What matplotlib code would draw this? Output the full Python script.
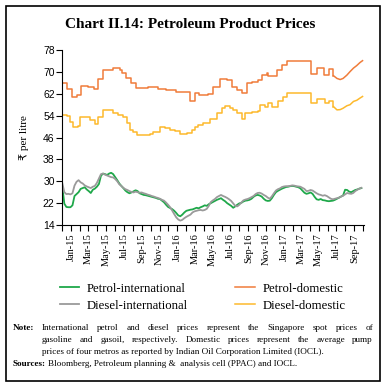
import numpy as np
import pandas as pd
import matplotlib
matplotlib.use("Agg")
import matplotlib.pyplot as plt
import matplotlib.dates as mdates
import matplotlib.transforms as mtransforms
from matplotlib.patches import Rectangle

# weekly Singapore spot prices (Rs per litre), starting 1 Dec 2014
intl_start = "2014-12-01"
petrol_intl = [28.0, 21.8, 20.6, 20.5, 20.5, 21.2, 24.6, 25.3, 26.0, 27.2,
               27.5, 27.8, 27.0, 26.4, 25.7, 26.9, 27.3, 28.0, 29.0, 32.0,
               32.8, 32.6, 32.3, 32.8, 33.1, 32.6, 31.5, 30.4, 29.2, 28.3,
               27.5, 26.6, 26.0, 25.6, 25.9, 26.3, 26.7, 26.4, 25.6, 25.3,
               25.0, 24.9, 24.7, 24.5, 24.3, 24.1, 23.9, 23.6, 23.5, 22.9,
               22.3, 21.4, 20.6, 20.2, 19.8, 19.2, 18.4, 17.5, 17.2, 17.8,
               18.6, 19.2, 19.4, 19.6, 19.7, 20.0, 20.3, 20.1, 20.5, 20.8,
               21.2, 21.0, 21.6, 22.0, 22.4, 22.8, 23.2, 23.5, 23.8, 23.2,
               22.7, 22.0, 21.5, 21.0, 20.3, 20.8, 21.4, 21.9, 22.1, 22.6,
               22.9, 23.0, 23.2, 23.6, 24.3, 24.8, 25.0, 24.8, 24.4, 23.6,
               23.0, 22.8, 22.9, 23.8, 25.0, 26.0, 26.5, 26.9, 27.3, 27.6,
               27.9, 28.0, 28.2, 28.3, 28.2, 28.0, 27.8, 27.4, 26.6, 25.8,
               25.4, 25.6, 25.9, 25.4, 24.3, 23.4, 23.2, 23.5, 23.1, 23.0,
               22.8, 22.7, 22.8, 22.9, 23.2, 23.6, 24.0, 24.4, 24.8, 26.9,
               26.8, 26.2, 26.0, 26.4, 26.8, 27.0, 27.3, 27.5]
diesel_intl = [29.3, 26.0, 25.3, 25.4, 25.2, 25.6, 28.4, 29.8, 30.4, 29.6,
               29.2, 28.5, 28.1, 27.8, 27.5, 28.0, 28.3, 29.4, 31.0, 32.6,
               32.8, 32.4, 32.1, 31.8, 31.5, 31.4, 30.8, 30.0, 28.9, 28.3,
               27.6, 27.1, 26.8, 26.4, 26.1, 25.9, 26.2, 26.0, 25.8, 25.9,
               25.6, 25.4, 25.1, 24.9, 24.6, 24.4, 24.1, 23.9, 23.6, 23.2,
               22.9, 22.2, 21.4, 20.5, 19.3, 18.0, 16.8, 16.0, 15.6, 15.9,
               16.5, 17.0, 17.4, 17.8, 18.6, 19.0, 19.2, 19.4, 19.5, 19.3,
               19.5, 19.9, 21.0, 22.4, 23.0, 23.5, 24.2, 24.6, 25.0, 24.6,
               24.3, 23.9, 23.4, 22.8, 21.9, 21.0, 20.8, 21.4, 22.2, 23.0,
               23.3, 23.5, 23.8, 24.2, 24.6, 25.3, 25.7, 25.8, 25.5, 25.0,
               24.6, 24.0, 23.6, 24.5, 25.6, 26.6, 27.1, 27.4, 27.9, 28.1,
               28.2, 28.2, 28.3, 28.5, 28.4, 28.2, 28.1, 28.0, 27.6, 27.2,
               26.4, 26.5, 26.8, 26.6, 26.1, 25.6, 25.2, 25.0, 24.7, 24.9,
               24.6, 24.1, 23.6, 23.4, 23.6, 23.8, 24.0, 24.4, 24.7, 25.2,
               25.7, 25.5, 25.4, 25.7, 26.4, 26.9, 27.3, 27.6]

# domestic pump prices: revision dates and new price (fortnightly revisions)
petrol_dom_dates = ["2014-12-01", "2014-12-16", "2015-01-02", "2015-01-20", "2015-02-02",
                    "2015-02-28", "2015-03-21", "2015-04-04", "2015-04-21", "2015-05-26",
                    "2015-06-18", "2015-06-24", "2015-07-08", "2015-07-25", "2015-08-12",
                    "2015-09-22", "2015-10-26", "2015-11-23", "2015-12-27", "2016-02-15",
                    "2016-03-02", "2016-03-15", "2016-04-15", "2016-05-04", "2016-05-27",
                    "2016-06-19", "2016-07-06", "2016-07-23", "2016-08-09", "2016-08-27",
                    "2016-09-13", "2016-10-06", "2016-10-17", "2016-11-03", "2016-11-09",
                    "2016-12-08", "2016-12-25", "2017-01-11", "2017-04-04", "2017-04-25",
                    "2017-05-20", "2017-06-04", "2017-06-21"]
petrol_dom = [65.8, 63.8, 60.9, 61.5, 65.0, 64.6, 63.7, 67.5, 70.7, 71.4,
              70.6, 69.5, 67.6, 65.8, 64.0, 64.3, 63.9, 63.4, 62.8, 59.2,
              62.1, 61.5, 61.8, 64.6, 67.3, 66.9, 64.6, 63.4, 62.1, 65.8,
              66.4, 67.0, 68.9, 69.5, 68.4, 70.7, 72.5, 74.1, 69.3, 71.6,
              68.8, 71.2, 68.6]
diesel_dom_dates = ["2014-12-01", "2014-12-16", "2014-12-27", "2015-01-08", "2015-01-25",
                    "2015-01-31", "2015-03-06", "2015-03-24", "2015-04-04", "2015-04-21",
                    "2015-05-26", "2015-06-12", "2015-06-29", "2015-07-11", "2015-07-22",
                    "2015-08-02", "2015-08-14", "2015-09-29", "2015-10-10", "2015-11-02",
                    "2015-11-19", "2015-12-07", "2015-12-24", "2016-01-10", "2016-02-02",
                    "2016-02-19", "2016-03-02", "2016-03-13", "2016-03-30", "2016-04-22",
                    "2016-05-15", "2016-06-02", "2016-06-13", "2016-06-30", "2016-07-12",
                    "2016-07-23", "2016-08-09", "2016-08-21", "2016-09-13", "2016-10-06",
                    "2016-10-11", "2016-10-29", "2016-11-09", "2016-11-21", "2016-12-13",
                    "2016-12-31", "2017-01-11", "2017-04-04", "2017-04-25", "2017-05-23",
                    "2017-06-04", "2017-06-21"]
diesel_dom = [54.2, 53.8, 51.8, 49.7, 50.3, 53.4, 52.4, 50.9, 53.4, 56.1,
              55.1, 54.2, 53.4, 51.2, 48.7, 48.0, 46.9, 47.1, 48.1, 49.7,
              49.3, 48.8, 48.3, 47.2, 47.6, 48.6, 49.7, 50.6, 51.4, 52.7,
              54.9, 56.7, 57.5, 56.7, 56.1, 54.9, 52.7, 54.9, 55.2, 55.6,
              57.9, 57.3, 58.5, 57.2, 59.3, 60.9, 62.2, 58.5, 60.2, 58.8,
              59.4, 57.3]

# daily revision from 16 June 2017
daily_dates = ["2017-06-21", "2017-07-03", "2017-07-14", "2017-07-24", "2017-08-06",
               "2017-08-17", "2017-08-29", "2017-09-09", "2017-09-20", "2017-09-29"]
petrol_daily = [68.6, 67.6, 67.2, 67.6, 68.8, 70.1, 71.4, 72.3, 73.4, 74.1]
diesel_daily = [57.3, 56.1, 56.2, 56.7, 57.6, 58.0, 59.2, 59.6, 60.4, 61.0]

tick_labels = ["Jan-15", "Mar-15", "May-15", "Jul-15", "Sep-15", "Nov-15",
               "Jan-16", "Mar-16", "May-16", "Jul-16", "Sep-16", "Nov-16",
               "Jan-17", "Mar-17", "May-17", "Jul-17", "Sep-17"]

green = "#1fa84a"
grey = "#9a9a9a"
orange = "#f07c3a"
yellow = "#fdb92c"

W, H = 386, 387
fig = plt.figure(figsize=(W / 100, H / 100), dpi=100)
ax = fig.add_axes([62.3 / W, 1 - 225 / H, (364 - 62.3) / W, 175 / H])

intl_dates = pd.date_range(intl_start, periods=len(petrol_intl), freq="7D")
ax.plot(intl_dates, petrol_intl, color=green, lw=1.3, label="Petrol-international")
ax.plot(intl_dates, diesel_intl, color=grey, lw=1.3, label="Diesel-international")
pd_dates = pd.to_datetime(petrol_dom_dates)
dd_dates = pd.to_datetime(diesel_dom_dates)
dl_dates = pd.to_datetime(daily_dates)
ax.plot(pd_dates, petrol_dom, color=orange, lw=1.1, drawstyle="steps-post", label="Petrol-domestic")
ax.plot(dl_dates, petrol_daily, color=orange, lw=1.1)
ax.plot(dd_dates, diesel_dom, color=yellow, lw=1.1, drawstyle="steps-post", label="Diesel-domestic")
ax.plot(dl_dates, diesel_daily, color=yellow, lw=1.1)

ax.set_ylim(14, 78)
ax.set_yticks(np.arange(14, 79, 8))
ax.set_xlim(pd.Timestamp("2014-12-01"), pd.Timestamp("2017-10-04"))
ticks = pd.to_datetime([t.replace("-", " 20") for t in tick_labels], format="%b %Y")
ax.set_xticks(ticks)
ax.set_xticklabels(tick_labels, rotation=90, family="Liberation Serif", fontsize=7.5)
# labels sit a little right of the month start, as in the original
shift = mtransforms.ScaledTranslation(2.5 / 100, 0, fig.dpi_scale_trans)
for lab in ax.get_xticklabels():
    lab.set_transform(lab.get_transform() + shift)
ax.xaxis.set_minor_locator(mdates.MonthLocator())
for s in ["top", "right"]:
    ax.spines[s].set_visible(False)
for s in ["left", "bottom"]:
    ax.spines[s].set_linewidth(0.8)
ax.tick_params(axis="y", direction="out", length=4, width=0.8, pad=1.5, labelsize=7.5)
ax.tick_params(axis="x", which="both", direction="out", length=4, width=0.8, pad=2)
for lab in ax.get_yticklabels():
    lab.set_family("Liberation Sans")
ax.set_ylabel("₹ per litre", family=["Liberation Serif", "DejaVu Sans"], fontsize=8, labelpad=10)

handles, labels = ax.get_legend_handles_labels()
fig.legend(handles, labels, ncol=2, loc="upper left", bbox_to_anchor=(48 / W, 1 - 271 / H),
           frameon=False, prop={"family": "Liberation Serif", "size": 9.2},
           handlelength=1.5, handletextpad=0.65, columnspacing=3.7, labelspacing=0.4)

fig.text(190 / W, 1 - 25 / H, "Chart II.14: Petroleum Product Prices", ha="center", va="center",
         family="Liberation Serif", weight="bold", fontsize=11)

fig.add_artist(Rectangle((6 / W, 6 / H), 374 / W, 375 / H, transform=fig.transFigure,
                         fill=False, ec="black", lw=1.2))

# justified note lines
note_lines = ["International petrol and diesel prices represent the Singapore spot prices of",
              "gasoline and gasoil, respectively. Domestic prices represent the average pump",
              "prices of four metros as reported by Indian Oil Corporation Limited (IOCL)."]
nfont = {"family": "Liberation Serif", "size": 6.6}
renderer = fig.canvas.get_renderer()
x0, x1 = 42, 373
ys = [330, 342, 354]
for i, line in enumerate(note_lines):
    words = line.split()
    if i == len(note_lines) - 1:
        fig.text(x0 / W, 1 - ys[i] / H, line, va="baseline", **nfont)
        continue
    objs = [fig.text(0, 1 - ys[i] / H, w, va="baseline", **nfont) for w in words]
    widths = [o.get_window_extent(renderer).width for o in objs]
    gap = (x1 - x0 - sum(widths)) / (len(words) - 1)
    x = x0
    for o, w in zip(objs, widths):
        o.set_x(x / W)
        x += w + gap
fig.text(13 / W, 1 - 330 / H, "Note:", va="baseline", weight="bold", **nfont)
t1 = fig.text(13 / W, 1 - 366 / H, "Sources:", va="baseline", weight="bold", **nfont)
sw = t1.get_window_extent(renderer).width
fig.text((13 + sw + 2) / W, 1 - 366 / H, "Bloomberg, Petroleum planning &  analysis cell (PPAC) and IOCL.",
         va="baseline", **nfont)

fig.savefig("out.png", dpi=100)
